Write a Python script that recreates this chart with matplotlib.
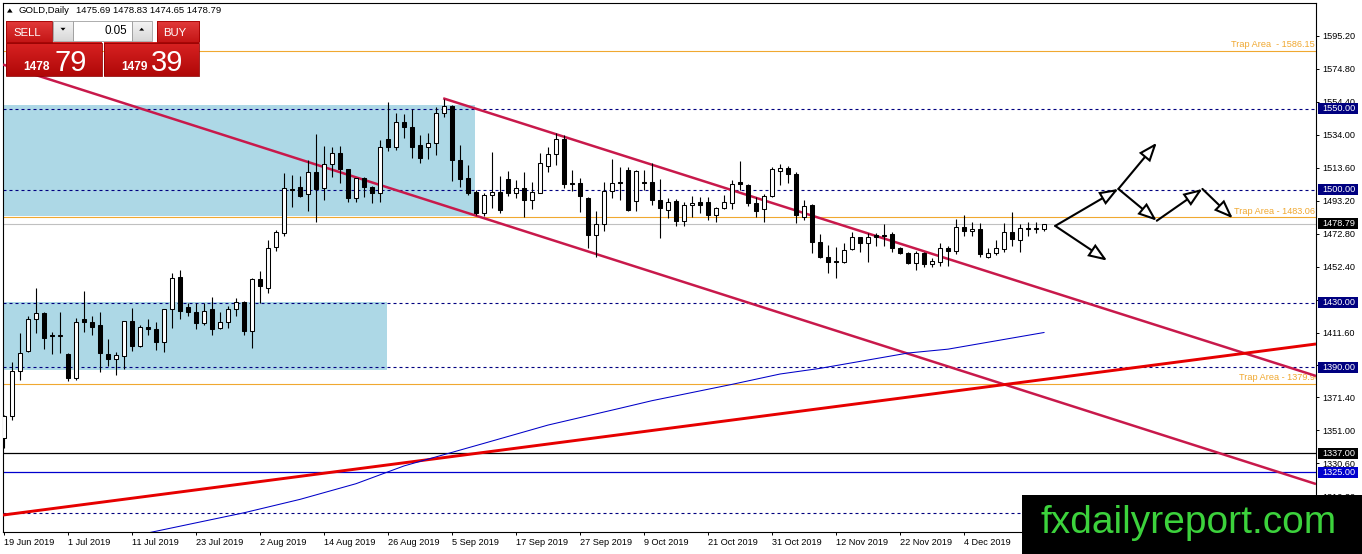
import numpy as np
import matplotlib
matplotlib.use('Agg')
import matplotlib.pyplot as plt
from matplotlib.patches import Rectangle, FancyArrowPatch, Polygon
from matplotlib import transforms as mtrans

plt.rcParams['font.family'] = ['Liberation Sans', 'DejaVu Sans']

# ---------------- data ----------------
symbol = "GOLD,Daily"
opens = [1346.0, 1360.2, 1387.9, 1400.3, 1419.7, 1423.4, 1410.0, 1409.2, 1398.6, 1383.2,
         1419.7, 1418.2, 1416.0, 1398.4, 1395.3, 1397.0, 1418.9, 1403.2, 1415.1, 1413.9,
         1405.6, 1426.3, 1446.1, 1427.5, 1424.4, 1417.6, 1425.9, 1414.5, 1418.4, 1426.3,
         1430.6, 1412.5, 1444.9, 1439.3, 1464.8, 1473.4, 1500.5, 1501.9, 1497.2, 1510.8,
         1501.3, 1515.7, 1522.5, 1512.6, 1495.1, 1507.1, 1501.9, 1497.8, 1531.2, 1526.3,
         1542.2, 1538.6, 1527.7, 1526.3, 1528.7, 1547.7, 1551.9, 1518.4, 1507.1, 1498.8,
         1485.4, 1496.7, 1498.8, 1506.5, 1497.8, 1500.9, 1493.7, 1498.2, 1514.9, 1521.9,
         1531.4, 1504.3, 1504.3, 1494.7, 1472.0, 1478.6, 1499.2, 1504.5, 1512.4, 1493.2,
         1504.5, 1505.0, 1493.7, 1487.5, 1493.2, 1480.8, 1490.5, 1492.2, 1492.2, 1484.4,
         1488.5, 1491.6, 1504.5, 1503.0, 1491.6, 1487.9, 1496.3, 1511.8, 1513.3, 1509.8,
         1483.3, 1490.5, 1467.9, 1458.6, 1455.9, 1455.5, 1463.1, 1470.5, 1466.9, 1472.0,
         1472.0, 1472.4, 1463.7, 1461.0, 1454.4, 1461.0, 1454.0, 1455.5, 1464.2, 1462.1,
         1477.1, 1474.4, 1475.9, 1458.2, 1461.0, 1463.3, 1474.0, 1468.6, 1476.3, 1475.5,
         1475.69]
highs = [1360.5, 1393.3, 1411.4, 1421.7, 1438.9, 1424.4, 1412.0, 1424.4, 1398.8, 1420.7,
         1437.6, 1421.7, 1424.4, 1407.3, 1399.7, 1419.0, 1426.9, 1416.2, 1419.7, 1418.2,
         1426.3, 1448.2, 1450.0, 1430.0, 1430.0, 1430.0, 1433.7, 1424.4, 1427.9, 1433.0,
         1431.0, 1445.5, 1449.6, 1469.0, 1475.0, 1510.2, 1509.1, 1508.5, 1518.4, 1534.5,
         1527.1, 1526.7, 1527.1, 1512.8, 1507.3, 1507.7, 1502.3, 1530.8, 1554.5, 1547.3,
         1546.9, 1549.8, 1533.9, 1534.9, 1551.4, 1556.0, 1552.5, 1527.7, 1515.3, 1500.0,
         1498.2, 1523.6, 1508.5, 1511.6, 1506.1, 1511.2, 1505.0, 1522.5, 1526.7, 1535.3,
         1533.9, 1512.2, 1507.0, 1495.3, 1487.0, 1505.0, 1518.8, 1514.3, 1514.3, 1512.2,
         1512.2, 1516.4, 1506.8, 1494.7, 1494.3, 1492.1, 1496.0, 1495.3, 1495.3, 1489.5,
         1496.7, 1506.1, 1517.8, 1503.5, 1495.3, 1497.2, 1514.3, 1515.9, 1514.9, 1511.0,
         1493.6, 1491.0, 1472.8, 1465.8, 1464.8, 1466.8, 1473.9, 1471.0, 1473.1, 1473.1,
         1478.8, 1474.0, 1464.6, 1461.7, 1462.3, 1461.7, 1457.6, 1466.9, 1465.2, 1481.7,
         1484.1, 1480.0, 1479.6, 1464.0, 1468.8, 1479.6, 1486.4, 1478.6, 1480.0, 1480.0,
         1478.83]
lows = [1340.0, 1357.3, 1382.1, 1399.5, 1411.4, 1401.7, 1398.0, 1399.0, 1381.5, 1382.5,
        1411.8, 1410.2, 1387.4, 1391.0, 1385.2, 1389.0, 1400.3, 1402.8, 1409.8, 1400.7,
        1399.5, 1414.5, 1419.7, 1421.7, 1413.5, 1416.0, 1410.2, 1413.5, 1414.5, 1421.7,
        1410.0, 1402.0, 1430.0, 1436.2, 1462.0, 1471.6, 1489.5, 1495.7, 1487.0, 1479.8,
        1493.7, 1507.7, 1504.0, 1492.6, 1492.6, 1495.7, 1492.0, 1492.6, 1524.0, 1524.6,
        1531.8, 1519.5, 1516.4, 1518.8, 1521.5, 1545.3, 1505.6, 1501.9, 1496.7, 1484.4,
        1483.7, 1488.5, 1485.4, 1495.9, 1494.7, 1483.3, 1487.9, 1497.8, 1511.2, 1515.3,
        1500.9, 1499.0, 1486.4, 1463.7, 1458.5, 1474.3, 1495.0, 1493.7, 1487.0, 1487.0,
        1499.8, 1490.5, 1470.0, 1482.3, 1477.8, 1477.8, 1483.3, 1485.4, 1481.3, 1480.3,
        1488.0, 1487.9, 1500.0, 1490.0, 1483.3, 1480.3, 1495.3, 1503.0, 1504.0, 1479.2,
        1481.3, 1460.6, 1457.6, 1448.3, 1445.6, 1454.4, 1462.7, 1461.7, 1455.5, 1465.0,
        1465.2, 1461.7, 1460.0, 1454.0, 1450.0, 1452.4, 1452.4, 1452.8, 1453.0, 1460.0,
        1471.6, 1471.6, 1458.4, 1457.8, 1459.6, 1461.7, 1465.0, 1461.7, 1471.6, 1473.3,
        1474.65]
closes = [1359.8, 1387.7, 1399.0, 1419.7, 1423.4, 1408.1, 1409.2, 1410.0, 1383.6, 1418.2,
          1418.0, 1415.1, 1399.0, 1395.3, 1397.4, 1418.9, 1403.2, 1415.1, 1413.5, 1405.6,
          1426.3, 1445.5, 1424.8, 1424.2, 1417.6, 1425.0, 1413.5, 1418.2, 1426.3, 1430.6,
          1412.5, 1444.9, 1440.4, 1463.7, 1473.6, 1500.9, 1500.0, 1496.1, 1510.8, 1500.5,
          1515.9, 1522.5, 1512.8, 1495.1, 1507.1, 1501.9, 1497.8, 1526.3, 1526.7, 1542.2,
          1538.6, 1526.7, 1519.5, 1528.7, 1547.7, 1551.9, 1518.4, 1506.5, 1498.2, 1485.4,
          1496.7, 1498.8, 1487.5, 1497.8, 1500.9, 1493.7, 1498.8, 1516.4, 1521.9, 1531.4,
          1503.3, 1503.5, 1496.3, 1472.0, 1478.6, 1499.2, 1504.3, 1503.9, 1487.5, 1511.6,
          1503.9, 1493.7, 1488.5, 1492.6, 1480.8, 1490.5, 1491.6, 1490.5, 1484.4, 1488.5,
          1492.6, 1503.5, 1503.5, 1491.6, 1487.0, 1496.3, 1512.8, 1513.6, 1509.8, 1484.5,
          1489.9, 1467.9, 1458.6, 1455.1, 1455.1, 1462.7, 1470.5, 1467.1, 1470.5, 1471.0,
          1471.4, 1463.7, 1461.0, 1454.4, 1461.0, 1454.0, 1455.9, 1464.2, 1462.1, 1477.1,
          1474.4, 1475.9, 1459.9, 1461.0, 1463.7, 1474.0, 1469.2, 1476.3, 1475.5, 1475.9,
          1478.79]

date_tick_idx = [0, 8, 16, 24, 32, 40, 48, 56, 64, 72, 80, 88, 96, 104, 112, 120, 128]
date_tick_labels = ['19 Jun 2019', '1 Jul 2019', '11 Jul 2019', '23 Jul 2019', '2 Aug 2019',
                    '14 Aug 2019', '26 Aug 2019', '5 Sep 2019', '17 Sep 2019', '27 Sep 2019',
                    '9 Oct 2019', '21 Oct 2019', '31 Oct 2019', '12 Nov 2019', '22 Nov 2019',
                    '4 Dec 2019', '16 Dec 2019']
price_ticks = [1595.20, 1574.80, 1554.40, 1534.00, 1513.60, 1493.20, 1472.80, 1452.40,
               1432.00, 1411.60, 1391.20, 1371.40, 1351.00, 1330.60, 1310.20]

# moving average (read at sample bars)
ma_idx = [17, 30, 37, 44, 50, 60, 68, 77, 81, 91, 97, 102, 113, 118, 130]
ma_val = [1286.5, 1300.0, 1308.3, 1318.0, 1329.0, 1343.0, 1354.3, 1364.7, 1369.4, 1379.5,
          1385.9, 1389.4, 1398.9, 1401.3, 1411.6]

# zones
zone_x0 = [-0.125, -0.125]
zone_x1 = [58.9, 47.9]
zone_lo = [1483.6, 1388.5]
zone_hi = [1552.5, 1430.4]

# levels
dashed_levels = [1550.00, 1500.00, 1430.00, 1390.00, 1300.00]
dashed_boxed = [1550.00, 1500.00, 1430.00, 1390.00]
trap_levels = [1586.15, 1483.06, 1379.96]
trap_labels = ['Trap Area  - 1586.15', 'Trap Area - 1483.06', 'Trap Area - 1379.96']
black_level = 1337.00
blue_level = 1325.00
current_price = 1478.79

# trend lines (start, end)
chan_lower_x = [-0.125, 164.0]
chan_lower_y = [1577.5, 1317.8]
chan_upper_x = [54.9, 164.0]
chan_upper_y = [1556.6, 1384.7]
support_x = [-0.125, 164.0]
support_y = [1298.6, 1404.5]

# scenario arrows: point names and coordinates
arrow_pts = {'A': (131.4, 1477.6), 'B': (139.3, 1500.5), 'C': (144.1, 1529.1),
             'D': (144.1, 1480.8), 'E': (149.8, 1500.5), 'F': (153.6, 1482.3),
             'G': (137.9, 1456.1)}
arrow_segs = [('A', 'B'), ('B', 'C'), ('B', 'D'), ('D', 'E'), ('E', 'F'), ('A', 'G')]

sell_price = ('1478', '79')
buy_price = ('1479', '39')
lot = '0.05'

# ---------------- figure ----------------
W, H = 1362, 554
fig = plt.figure(figsize=(W / 100, H / 100), dpi=100)
L, R, T, B = 3, 1316, 3, 532
ax = fig.add_axes([L / W, 1 - B / H, (R - L) / W, (B - T) / H])
ax.set_xlim(-0.125, 164.0)
ax.set_ylim(1288.1, 1615.6)
ppu = (B - T) / (1615.6 - 1288.1)  # pixels per price unit

def fx(px):
    return (px - L) / (R - L)

for sp in ax.spines.values():
    sp.set_color('black')
    sp.set_linewidth(0.8)

# zones
for x0, x1, lo, hi in zip(zone_x0, zone_x1, zone_lo, zone_hi):
    ax.add_patch(Rectangle((x0, lo), x1 - x0, hi - lo, fc='#ADD8E6', ec='none', zorder=1))

# horizontal levels
for lv in dashed_levels:
    ax.axhline(lv, color='#000080', lw=0.8, ls=(0, (2.7, 2.7)), zorder=2)
for lv in trap_levels:
    ax.axhline(lv, color='#F0A830', lw=0.8, zorder=2)
ax.axhline(black_level, color='black', lw=0.9, zorder=2)
ax.axhline(blue_level, color='#0000CD', lw=0.9, zorder=2)
ax.axhline(current_price, color='#C0C0C0', lw=0.8, zorder=2)

trans_ay = mtrans.blended_transform_factory(ax.transAxes, ax.transData)
for lv, lab in zip(trap_levels, trap_labels):
    xr = fx(1314.5) if lv > 1400 else fx(1320)
    ax.text(xr, lv + 3.2 / ppu, lab, transform=trans_ay, ha='right', va='baseline',
            color='#F0A830', fontsize=6.6, zorder=3, clip_on=True)

# trend lines
ax.plot(chan_lower_x, chan_lower_y, color='#C8194B', lw=1.8, zorder=3, solid_capstyle='butt')
ax.plot(chan_upper_x, chan_upper_y, color='#C8194B', lw=1.8, zorder=3, solid_capstyle='butt')
ax.plot(support_x, support_y, color='#E60000', lw=2.1, zorder=3, solid_capstyle='butt')

# moving average
ax.plot(ma_idx, ma_val, color='#0000C8', lw=0.75, zorder=3)

# candles
idx = np.arange(len(opens))
bw = 0.52
ax.vlines(idx, lows, highs, color='black', lw=0.8, zorder=4)
for i, o, c in zip(idx, opens, closes):
    lo, hi = min(o, c), max(o, c)
    h = max(hi - lo, 0.6)
    if c >= o:
        ax.add_patch(Rectangle((i - bw / 2, lo), bw, h, fc='white', ec='black', lw=0.75, zorder=5))
    else:
        ax.add_patch(Rectangle((i - bw / 2, lo), bw, h, fc='black', ec='black', lw=0.75, zorder=5))

# arrows
for a, b in arrow_segs:
    pa, pb = arrow_pts[a], arrow_pts[b]
    arr = FancyArrowPatch(pa, pb, arrowstyle='-|>,head_length=11,head_width=4.2',
                          mutation_scale=1, fc='white', ec='black', lw=1.5,
                          shrinkA=0, shrinkB=0, zorder=6, joinstyle='miter')
    ax.add_patch(arr)

# axis ticks
ax.yaxis.tick_right()
ax.set_yticks(price_ticks)
ax.set_yticklabels([f'{v:.2f}' for v in price_ticks])
ax.tick_params(axis='y', right=True, left=False, labelright=True, labelleft=False,
               length=2.2, width=0.7, pad=2.5, labelsize=6.6, direction='out')
ax.set_xticks(date_tick_idx)
ax.set_xticklabels(date_tick_labels, ha='left')
ax.tick_params(axis='x', length=2.2, width=0.7, pad=2.4, labelsize=6.6, direction='out')

# price boxes on the right axis
def price_box(v, txt, col):
    ax.add_patch(Rectangle((fx(1317.5), v - 5.5 / ppu), 40.5 / (R - L), 11 / ppu,
                           transform=trans_ay, fc=col, ec='none', clip_on=False, zorder=20))
    ax.text(fx(1322.5), v, txt, transform=trans_ay, color='white', va='center', ha='left',
            fontsize=6.6, clip_on=False, zorder=21)

for lv in dashed_boxed:
    price_box(lv, f'{lv:.2f}', '#000080')
price_box(current_price, f'{current_price:.2f}', 'black')
price_box(black_level, f'{black_level:.2f}', 'black')
price_box(blue_level, f'{blue_level:.2f}', '#0000CD')

# ---------------- overlay (header, trade panel, watermark) ----------------
ov = fig.add_axes([0, 0, 1, 1], zorder=10)
ov.patch.set_alpha(0)
ov.axis('off')

def grad_rect(x0, y0, x1, y1, ctop, cbot, z=11, ec=None):
    ct = np.array(matplotlib.colors.to_rgb(ctop))
    cb = np.array(matplotlib.colors.to_rgb(cbot))
    t = np.linspace(0, 1, 40)[:, None, None]
    arr = ct * (1 - t) + cb * t
    ov.imshow(arr, extent=(x0, x1, y1, y0), aspect='auto', interpolation='bilinear', zorder=z)
    if ec is not None:
        ov.add_patch(Rectangle((x0, y0), x1 - x0, y1 - y0, fc='none', ec=ec, lw=0.6, zorder=z + 0.1))

# header
ov.add_patch(Polygon([(7.0, 12.6), (12.6, 12.6), (9.8, 8.4)], closed=True, fc='black', ec='none', zorder=12))
ov.text(18.3, 10.8, symbol, fontsize=6.8, va='center', ha='left', zorder=12)
ov.text(76, 10.8, ' '.join(f'{v:.2f}' for v in (opens[-1], highs[-1], lows[-1], closes[-1])),
        fontsize=6.8, va='center', ha='left', zorder=12)

# trade panel
grad_rect(6, 20.7, 51.7, 41.7, '#E23A3A', '#C41616', ec='#A00000')
grad_rect(156.7, 20.7, 199, 41.7, '#E23A3A', '#C41616', ec='#A00000')
grad_rect(6, 42.7, 101.7, 76, '#D82222', '#B00808', ec='#900000')
grad_rect(104, 42.7, 199, 76, '#D82222', '#B00808', ec='#900000')
grad_rect(52.7, 20.7, 73.3, 40.7, '#F4F4F4', '#D8D8D8', ec='#A0A0A0')
grad_rect(131.7, 20.7, 151.7, 40.7, '#F4F4F4', '#D8D8D8', ec='#A0A0A0')
ov.add_patch(Rectangle((73.3, 20.7), 58.4, 20, fc='white', ec='#A0A0A0', lw=0.6, zorder=11))
ov.add_patch(Polygon([(60.5, 27.8), (65.5, 27.8), (63, 30.6)], closed=True, fc='black', zorder=12))
ov.add_patch(Polygon([(139.2, 30.6), (144.2, 30.6), (141.7, 27.8)], closed=True, fc='black', zorder=12))
ov.text(126.7, 34.3, lot, fontsize=8.4, ha='right', va='baseline', zorder=12)
ov.text(27.7, 35.8, 'SELL', fontsize=8.2, color='white', ha='center', va='baseline', zorder=12)
ov.text(174.8, 35.8, 'BUY', fontsize=8.2, color='white', ha='center', va='baseline', zorder=12)
ov.text(50.0, 70.0, sell_price[0], fontsize=8.6, fontweight='bold', color='white', ha='right', va='baseline', zorder=12)
ov.text(54.5, 70.8, sell_price[1], fontsize=21, color='white', ha='left', va='baseline', zorder=12)
ov.text(147.3, 70.0, buy_price[0], fontsize=8.6, fontweight='bold', color='white', ha='right', va='baseline', zorder=12)
ov.text(151.2, 70.8, buy_price[1], fontsize=21, color='white', ha='left', va='baseline', zorder=12)

# watermark
ov.add_patch(Rectangle((1022, 495), 340, 59, fc='black', ec='none', zorder=30))
ov.text(1188.5, 533, 'fxdailyreport.com', color='#3CD23C', fontsize=28, ha='center', va='baseline', zorder=31)

ov.set_xlim(0, W)
ov.set_ylim(H, 0)

fig.savefig('out.png', dpi=100)
